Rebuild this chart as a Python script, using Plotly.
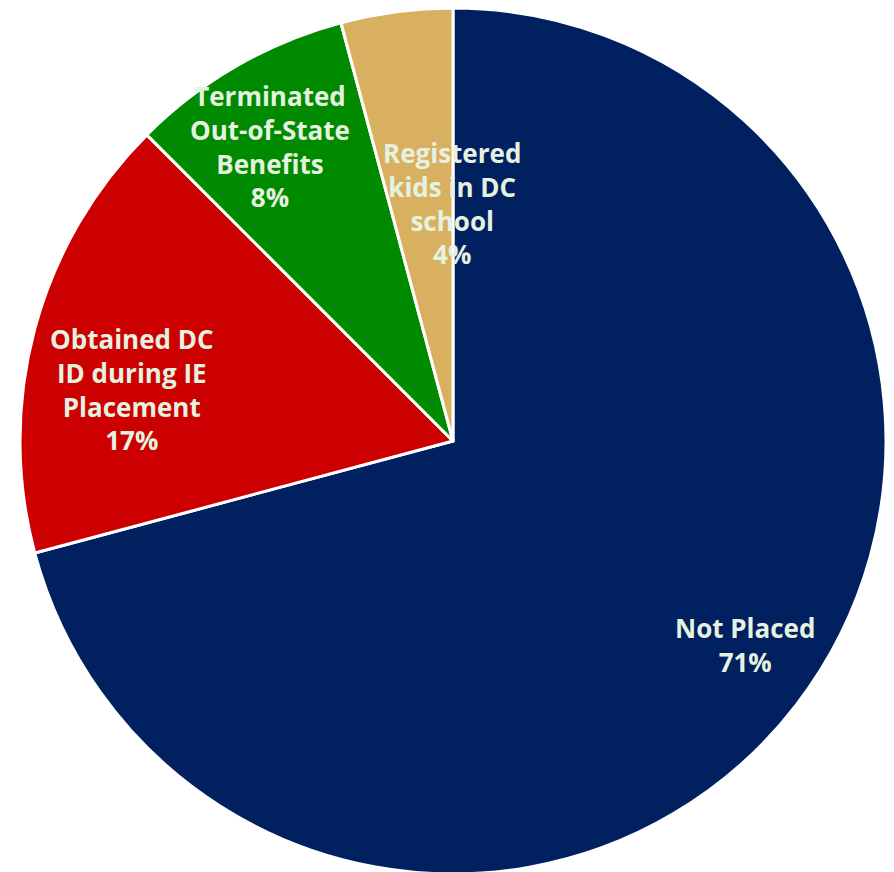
import plotly.graph_objects as go

labels = ["Not Placed", "Obtained DC ID during IE Placement", "Terminated Out-of-State Benefits", "Registered kids in DC school"]
label_text = ["Not Placed", "Obtained DC<br>ID during IE<br>Placement", "Terminated<br>Out-of-State<br>Benefits", "Registered<br>kids in DC<br>school"]
values = [17, 4, 2, 1]
colors = ["#002060", "#CC0000", "#008A00", "#D9B060"]

W, H = 894, 872
OFF = 8  # page body margin
label_px = [(745, 645), (132, 389), (270, 146), (452, 203)]

total = sum(values)
pcts = [round(v / total * 100) for v in values]

fig = go.Figure(go.Pie(
    labels=labels,
    values=values,
    sort=False,
    direction="clockwise",
    rotation=0,
    marker=dict(colors=colors, line=dict(color="white", width=3)),
    textposition="none",
    hoverinfo="label+percent",
    domain=dict(x=[(20 - OFF) / W, (886 - OFF) / W], y=[6 / H, 1]),
    showlegend=False,
))

for (px, py), t, p in zip(label_px, label_text, pcts):
    fig.add_annotation(
        x=(px - OFF) / W, y=1 - (py - OFF) / H, xref="paper", yref="paper",
        text=f"<b>{t}<br>{p}%</b>", showarrow=False,
        font=dict(family="Open Sans, DejaVu Sans, sans-serif", size=26, color="#E6F2E0"),
        align="center", xanchor="center", yanchor="middle",
    )

fig.update_layout(
    width=W, height=H,
    margin=dict(l=0, r=0, t=0, b=0),
    paper_bgcolor="white", plot_bgcolor="white",
)

fig.write_html("out.html")
